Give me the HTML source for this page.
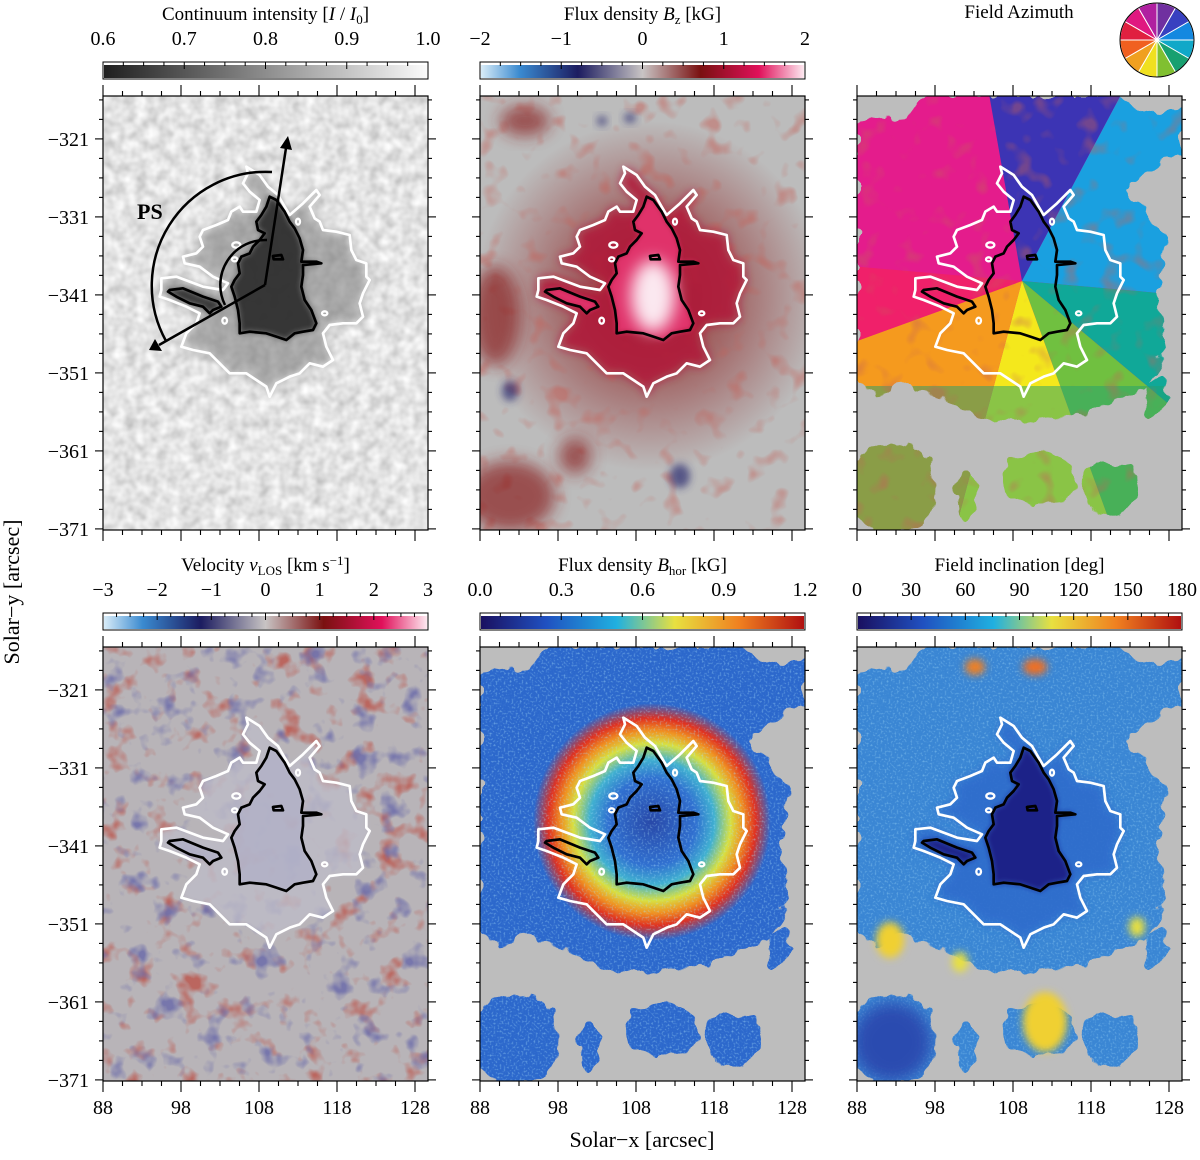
<!DOCTYPE html>
<html><head><meta charset="utf-8">
<style>
html,body{margin:0;padding:0;background:#fff;}
svg text{font-family:"Liberation Serif",serif;fill:#000;}
</style></head>
<body>
<svg id="fig" width="1200" height="1155" viewBox="0 0 1200 1155" xmlns="http://www.w3.org/2000/svg">
<defs>
  <clipPath id="pclip"><rect x="0" y="0" width="325" height="434"/></clipPath>
  <filter id="gran" x="0" y="0" width="325" height="434" filterUnits="userSpaceOnUse">
    <feTurbulence type="fractalNoise" baseFrequency="0.09" numOctaves="2" seed="4"/>
    <feColorMatrix values="0.6 0 0 0 0.47  0.6 0 0 0 0.47  0.6 0 0 0 0.47  0 0 0 0 1"/>
  </filter>
  <filter id="redn" x="0" y="0" width="325" height="434" filterUnits="userSpaceOnUse">
    <feTurbulence type="fractalNoise" baseFrequency="0.045" numOctaves="2" seed="7"/>
    <feColorMatrix values="0 0 0 0 0.55  0 0 0 0 0.12  0 0 0 0 0.1  4.5 0 0 0 -2.55"/>
  </filter>
  <filter id="velr" x="0" y="0" width="325" height="434" filterUnits="userSpaceOnUse">
    <feTurbulence type="fractalNoise" baseFrequency="0.04" numOctaves="3" seed="7"/>
    <feColorMatrix values="0 0 0 0 0.5  0 0 0 0 0.1  0 0 0 0 0.08  4 0 0 0 -2.25"/>
  </filter>
  <filter id="velb" x="0" y="0" width="325" height="434" filterUnits="userSpaceOnUse">
    <feTurbulence type="fractalNoise" baseFrequency="0.04" numOctaves="3" seed="23"/>
    <feColorMatrix values="0 0 0 0 0.15  0 0 0 0 0.15  0 0 0 0 0.4  4 0 0 0 -2.3"/>
  </filter>
  <filter id="speck" x="0" y="0" width="325" height="434" filterUnits="userSpaceOnUse">
    <feTurbulence type="fractalNoise" baseFrequency="0.5" numOctaves="1" seed="3"/>
    <feColorMatrix values="0 0 0 0 0.4  0 0 0 0 0.75  0 0 0 0 0.95  3 0 0 0 -1.5"/>
  </filter>
  <filter id="rough" x="-20" y="-20" width="365" height="474" filterUnits="userSpaceOnUse">
    <feTurbulence type="fractalNoise" baseFrequency="0.06" numOctaves="2" seed="11" result="t"/>
    <feDisplacementMap in="SourceGraphic" in2="t" scale="18" xChannelSelector="R" yChannelSelector="G"/>
  </filter>
  <filter id="b4" x="-50%" y="-50%" width="200%" height="200%"><feGaussianBlur stdDeviation="4"/></filter>
  <filter id="b8" x="-50%" y="-50%" width="200%" height="200%"><feGaussianBlur stdDeviation="8"/></filter>
  <filter id="b14" x="-50%" y="-50%" width="200%" height="200%"><feGaussianBlur stdDeviation="14"/></filter>
  <mask id="region" maskUnits="userSpaceOnUse" x="0" y="0" width="325" height="434">
    <g filter="url(#rough)" fill="#fff">
      <path d="M0,25 L50,20 L70,0 L260,0 L290,20 L325,10 L325,60 L300,70 L270,90 L290,120 L310,140 L300,200 L310,250 L290,290 L250,310 L200,322 L160,326 L120,320 L80,300 L50,290 L20,300 L0,290 Z"/>
      <ellipse cx="35" cy="392" rx="45" ry="45"/>
      <ellipse cx="180" cy="383" rx="38" ry="26"/>
      <ellipse cx="252" cy="393" rx="28" ry="26"/>
      <ellipse cx="110" cy="400" rx="10" ry="25"/>
      <ellipse cx="300" cy="300" rx="14" ry="18"/>
    </g>
  </mask>
  <radialGradient id="halo" cx="170" cy="200" r="175" gradientUnits="userSpaceOnUse">
    <stop offset="0" stop-color="#8b1c1c" stop-opacity="0.9"/>
    <stop offset="0.5" stop-color="#8b1c1c" stop-opacity="0.5"/>
    <stop offset="1" stop-color="#8b1c1c" stop-opacity="0"/>
  </radialGradient>
  <radialGradient id="ring" cx="172" cy="175" r="125" gradientUnits="userSpaceOnUse">
    <stop offset="0" stop-color="#2848a8"/>
    <stop offset="0.35" stop-color="#3070d0"/>
    <stop offset="0.5" stop-color="#40b0d0"/>
    <stop offset="0.63" stop-color="#d8e040"/>
    <stop offset="0.73" stop-color="#f09020"/>
    <stop offset="0.83" stop-color="#e03020"/>
    <stop offset="0.95" stop-color="#e03020" stop-opacity="0"/>
  </radialGradient>
  <linearGradient id="cb1"><stop offset="0" stop-color="#202020"/><stop offset="1" stop-color="#fafafa"/></linearGradient>
  <linearGradient id="cb2">
    <stop offset="0" stop-color="#d8ecf8"/><stop offset="0.12" stop-color="#3a8ad0"/><stop offset="0.3" stop-color="#1c1c60"/>
    <stop offset="0.5" stop-color="#c8c4c4"/><stop offset="0.68" stop-color="#7a1010"/><stop offset="0.86" stop-color="#e0105a"/><stop offset="1" stop-color="#fde8f0"/>
  </linearGradient>
  <linearGradient id="cb4">
    <stop offset="0" stop-color="#d8ecf8"/><stop offset="0.12" stop-color="#3a8ad0"/><stop offset="0.3" stop-color="#1c1c60"/>
    <stop offset="0.5" stop-color="#c8c4c4"/><stop offset="0.68" stop-color="#7a1010"/><stop offset="0.86" stop-color="#e0105a"/><stop offset="1" stop-color="#fde8f0"/>
  </linearGradient>
  <linearGradient id="cb5">
    <stop offset="0" stop-color="#1a1060"/><stop offset="0.2" stop-color="#2050c0"/><stop offset="0.42" stop-color="#20b0e0"/>
    <stop offset="0.6" stop-color="#e8e040"/><stop offset="0.8" stop-color="#f08020"/><stop offset="1" stop-color="#b01010"/>
  </linearGradient>
  <linearGradient id="cb6">
    <stop offset="0" stop-color="#1a1060"/><stop offset="0.2" stop-color="#2050c0"/><stop offset="0.42" stop-color="#20b0e0"/>
    <stop offset="0.6" stop-color="#e8e040"/><stop offset="0.8" stop-color="#f08020"/><stop offset="1" stop-color="#b01010"/>
  </linearGradient>
</defs>
</svg>
<script>
const NS='http://www.w3.org/2000/svg';
const svg=document.getElementById('fig');
const yTickValues=[-321,-331,-341,-351,-361,-371];
const xTickValues=[88,98,108,118,128];
const cbTitles=['Continuum intensity [I / I0]','Flux density Bz [kG]','Field Azimuth','Velocity vLOS [km s−1]','Flux density Bhor [kG]','Field inclination [deg]'];
const cb1Labels=['0.6','0.7','0.8','0.9','1.0'];
const cb2Labels=['−2','−1','0','1','2'];
const cb4Labels=['−3','−2','−1','0','1','2','3'];
const cb5Labels=['0.0','0.3','0.6','0.9','1.2'];
const cb6Labels=['0','30','60','90','120','150','180'];
const wheelColors=['#7030a0','#3840c0','#1488e0','#10a8c8','#18a070','#80c030','#f0e020','#f0a020','#f06020','#e02040','#e01880','#b020a0'];

const X0=88, Y0=-315.5, PX=7.8, PW=325, PH=434;
const xs=v=>(v-X0)*PX;
const ys=v=>(Y0-v)*PX;
const origins=[[103,96],[480,96],[857,96],[103,647],[480,647],[857,647]];

function el(tag,attrs,parent,name){
  const e=document.createElementNS(NS,tag);
  for(const k in attrs)e.setAttribute(k,attrs[k]);
  
  
  (parent||svg).appendChild(e);return e;
}

const BLACK="M500,140 L520,150 L545,185 L560,215 L575,235 L590,265 L600,300 L595,335 L640,335 L655,340 L600,345 L600,375 L595,410 L605,450 L625,480 L640,520 L630,540 L600,545 L575,550 L550,570 L520,560 L490,550 L440,545 L410,550 L410,520 L405,480 L395,440 L385,410 L395,390 L410,370 L405,340 L415,320 L440,310 L450,290 L470,270 L485,250 L465,240 L460,215 L475,195 L490,170 Z M200,420 L240,415 L300,440 L345,455 L355,470 L330,480 L320,490 L300,470 L260,460 L220,440 L195,425 Z M510,318 L535,315 L540,328 L512,328 Z";
const WHITE="M430,50 L470,75 L495,110 L525,135 L545,170 L560,195 L600,160 L640,120 L650,135 L620,170 L635,205 L650,215 L660,240 L700,245 L740,255 L745,300 L760,330 L790,340 L790,380 L800,390 L780,430 L770,460 L780,500 L760,520 L720,520 L680,525 L660,550 L670,590 L690,630 L660,650 L620,640 L590,670 L560,680 L520,700 L500,740 L490,710 L460,690 L430,670 L380,670 L350,640 L320,610 L270,600 L235,590 L250,550 L280,520 L290,490 L250,470 L200,450 L170,440 L175,420 L175,385 L220,380 L260,395 L300,410 L360,420 L375,400 L330,380 L290,350 L245,340 L240,320 L280,310 L300,290 L290,260 L300,240 L340,225 L375,210 L385,185 L410,170 L420,185 L460,185 L470,150 L440,125 L420,100 L435,70 Z";
const CIRCLES=[[400,285,12,8],[395,328,8,6],[365,512,7,9],[665,490,8,6],[585,215,6,9]];
const CT='translate(0,54) scale(0.33333)';

function contours(g){
  const c=el('g',{transform:CT,fill:'none','stroke-linejoin':'round'},g,'contour-group');
  el('path',{d:WHITE,stroke:'#fff','stroke-width':8},c,'penumbra-contour');
  CIRCLES.forEach(p=>el('ellipse',{cx:p[0],cy:p[1],rx:p[2],ry:p[3],stroke:'#fff','stroke-width':7},c,'penumbra-contour-island'));
  el('path',{d:BLACK,stroke:'#000','stroke-width':8},c,'umbra-contour');
}
function shape(g,d,fill,filter,op,name){
  const c=el('g',{transform:CT},g,name);
  el('path',{d:d,fill:fill,filter:filter?`url(#${filter})`:'', opacity:op||1},c,name+'-shape');
}

function frame(i){
  const [ox,oy]=origins[i];
  const g=el('g',{transform:`translate(${ox},${oy})`},svg,'panel-'+(i+1));
  const body=el('g',{'clip-path':'url(#pclip)'},g,'panel-image');
  return {g,body};
}
function axes(i){
  const [ox,oy]=origins[i];
  const g=el('g',{transform:`translate(${ox},${oy})`},svg,'panel-axes-'+(i+1));
  el('rect',{x:0,y:0,width:PW,height:PH,fill:'none',stroke:'#000','stroke-width':1.2},g,'panel-frame');
  for(let v=88;v<=129.6;v+=2.5){
    const major=Math.abs((v-88)%10)<0.01;const L=major?11:5;const x=xs(v);
    el('line',{x1:x,x2:x,y1:0,y2:-L,stroke:'#000','stroke-width':1.1},g,'x-tick-top');
    el('line',{x1:x,x2:x,y1:PH,y2:PH+L,stroke:'#000','stroke-width':1.1},g,'x-tick-bottom');
  }
  for(let k=-2;k<=20;k++){
    const v=-321-k*2.5; if(v>Y0||v<-371.2)continue;
    const major=k%4===0;const L=major?8:4;const y=ys(v);
    el('line',{x1:0,x2:-L,y1:y,y2:y,stroke:'#000','stroke-width':1.1},g,'y-tick-left');
    el('line',{x1:PW,x2:PW+L,y1:y,y2:y,stroke:'#000','stroke-width':1.1},g,'y-tick-right');
  }
  if(i===0||i===3){
    yTickValues.forEach(v=>{const t=el('text',{x:-14,y:ys(v)+7,'font-size':20,'text-anchor':'end'},g,'y-tick-label');t.textContent=String(v).replace('-','−');});
  }
  if(i>=3){
    xTickValues.forEach(v=>{const t=el('text',{x:xs(v),y:PH+33,'font-size':20,'text-anchor':'middle'},g,'x-tick-label');t.textContent=v;});
  }
}

function colorbar(i,grad,labels,title,titleHTML){
  const [ox,oy]=origins[i];
  const by=oy-34;
  const g=el('g',{transform:`translate(${ox},${by})`},svg,'colorbar-'+(i+1));
  el('rect',{x:0,y:0,width:PW,height:17,fill:'#fff',stroke:'#000','stroke-width':1},g,'colorbar-frame');
  el('rect',{x:1,y:3,width:PW-2,height:13,fill:`url(#${grad})`},g,'colorbar-gradient');
  const n=labels.length-1;const minors=4;
  for(let k=0;k<=n*minors;k++){
    const x=k*PW/(n*minors);const major=k%minors===0;
    el('line',{x1:x,x2:x,y1:0,y2:major?7:4,stroke:'#000','stroke-width':1},g,'colorbar-tick');
  }
  labels.forEach((l,k)=>{const t=el('text',{x:k*PW/n,y:-17,'font-size':20,'text-anchor':'middle'},g,'colorbar-tick-label');t.textContent=l;});
  const t=el('text',{x:PW/2,y:-42,'font-size':19,'text-anchor':'middle'},g,'colorbar-title');
  t.innerHTML=titleHTML;
}

/* Panel 1 continuum */
{const {body}=frame(0);
 el('rect',{x:0,y:0,width:PW,height:PH,filter:'url(#gran)'},body,'granulation');
 shape(body,WHITE,'#808080','b14',0.6,'penumbra');
 shape(body,BLACK,'#2a2a2a','b8',0.9,'umbra');
 contours(body);
 const a=el('g',{stroke:'#000','stroke-width':2.5,fill:'none'},body,'ps-annotation');
 const cx=162,cy=189;
 el('path',{d:`M${cx+7},${cy-113} A114,114 0 0 0 ${cx-99},${cy+56}`},a,'ps-arc');
 el('path',{d:`M${cx+2},${cy-45} A45,45 0 0 0 ${cx-40},${cy+20}`},a,'ps-inner-arc');
 el('line',{x1:cx,y1:cy,x2:183,y2:52},a,'ps-arrow-up');
 el('line',{x1:cx,y1:cy,x2:56,y2:249},a,'ps-arrow-left');
 el('path',{d:'M177,52 L185,40 L189,54 Z',fill:'#000',stroke:'none'},a,'arrow-head');
 el('path',{d:'M52,243 L46,254 L59,255 Z',fill:'#000',stroke:'none'},a,'arrow-head');
 const t=el('text',{x:34,y:123,'font-size':22,'font-weight':'bold'},body,'ps-label');t.textContent='PS';
}
/* Panel 2 Bz */
{const {body}=frame(1);
 el('rect',{x:0,y:0,width:PW,height:PH,fill:'#bcbcbc'},body,'background');
 el('circle',{cx:170,cy:200,r:175,fill:'url(#halo)'},body,'halo');
 el('rect',{x:0,y:0,width:PW,height:PH,filter:'url(#redn)',opacity:0.5},body,'flux-patches');
 [[30,400,45,35],[45,25,25,15],[15,220,25,50],[95,360,16,18]].forEach(e=>el('ellipse',{cx:e[0],cy:e[1],rx:e[2],ry:e[3],fill:'#8b2020',opacity:0.7,filter:'url(#b8)'},body,'brown-patch'));
 [[30,295,8,10],[200,380,10,12],[150,22,6,5],[122,25,5,5]].forEach(e=>el('ellipse',{cx:e[0],cy:e[1],rx:e[2],ry:e[3],fill:'#2a2a70',opacity:0.7,filter:'url(#b4)'},body,'blue-patch'));
 shape(body,WHITE,'#b01238','b14',0.85,'penumbra');
 shape(body,BLACK,'#e0306a','b8',1,'umbra');
 el('ellipse',{cx:173,cy:200,rx:22,ry:36,fill:'#fbe8f0',filter:'url(#b8)'},body,'umbra-core');
 contours(body);
}
/* Panel 3 azimuth */
{const {body}=frame(2);
 el('rect',{x:0,y:0,width:PW,height:PH,fill:'#bdbdbd'},body,'background');
 const m=el('g',{mask:'url(#region)'},body,'azimuth-map');
 el('rect',{x:0,y:0,width:PW,height:PH,fill:'#e41c8c'},m,'azimuth-base');
 const cx=165,cy=185,R=400;
 const secs=[[-100,-62,'#3c34b4'],[-62,5,'#1aa0e0'],[5,40,'#10a898'],[40,70,'#70c040'],[70,105,'#f4e81c'],[105,160,'#f59a1e'],[160,185,'#f0206a']];
 secs.forEach(s=>{const a1=s[0]*Math.PI/180,a2=s[1]*Math.PI/180;
   el('path',{d:`M${cx},${cy} L${cx+R*Math.cos(a1)},${cy+R*Math.sin(a1)} A${R},${R} 0 0 1 ${cx+R*Math.cos(a2)},${cy+R*Math.sin(a2)} Z`,fill:s[2]},m,'azimuth-sector');});
 el('rect',{x:0,y:290,width:PW,height:150,fill:'#20a070',opacity:0.5},m,'outer-patches');
 el('rect',{x:0,y:0,width:PW,height:PH,filter:'url(#redn)',opacity:0.4},m,'texture');
 contours(body);
}
/* Panel 4 velocity */
{const {body}=frame(3);
 el('rect',{x:0,y:0,width:PW,height:PH,fill:'#b8b4b8'},body,'background');
 el('rect',{x:0,y:0,width:PW,height:PH,filter:'url(#velr)',opacity:0.85},body,'redshift-patches');
 el('rect',{x:0,y:0,width:PW,height:PH,filter:'url(#velb)',opacity:0.85},body,'blueshift-patches');
 shape(body,WHITE,'#bebcc8','b8',0.8,'penumbra');
 shape(body,BLACK,'#b0b0c8','b4',0.7,'umbra');
 contours(body);
}
/* Panel 5 Bhor */
{const {body}=frame(4);
 el('rect',{x:0,y:0,width:PW,height:PH,fill:'#bdbdbd'},body,'background');
 const m=el('g',{mask:'url(#region)'},body,'bhor-map');
 el('rect',{x:0,y:0,width:PW,height:PH,fill:'#2c68cc'},m,'bhor-base');
 el('ellipse',{cx:172,cy:175,rx:125,ry:125,fill:'url(#ring)'},m,'bhor-ring');
 el('rect',{x:0,y:0,width:PW,height:PH,filter:'url(#speck)',opacity:0.45},m,'speckle');
 contours(body);
}
/* Panel 6 inclination */
{const {body}=frame(5);
 el('rect',{x:0,y:0,width:PW,height:PH,fill:'#bdbdbd'},body,'background');
 const m=el('g',{mask:'url(#region)'},body,'inclination-map');
 el('rect',{x:0,y:0,width:PW,height:PH,fill:'#3a86d4'},m,'incl-base');
 el('rect',{x:0,y:0,width:PW,height:PH,filter:'url(#speck)',opacity:0.4},m,'speckle');
 shape(m,WHITE,'#2e6ccc','b14',0.9,'penumbra');
 shape(m,BLACK,'#1e2488','b8',1,'umbra');
 el('ellipse',{cx:35,cy:395,rx:40,ry:40,fill:'#2a4cb0',filter:'url(#b8)'},m,'dark-patch');
 [[118,20,10,8,'#f08020'],[178,20,12,8,'#f07020'],[33,293,14,18,'#f0d030'],[188,375,22,30,'#f0d030'],[103,315,8,10,'#e8e040'],[280,280,8,10,'#e8e040']].forEach(e=>el('ellipse',{cx:e[0],cy:e[1],rx:e[2],ry:e[3],fill:e[4],filter:'url(#b4)'},body,'inclined-patch'));
 contours(body);
}
for(let i=0;i<6;i++)axes(i);
colorbar(0,'cb1',cb1Labels,cbTitles[0],'Continuum intensity [<tspan font-style="italic">I</tspan> / <tspan font-style="italic">I</tspan><tspan font-size="13" dy="4">0</tspan><tspan dy="-4">]</tspan>');
colorbar(1,'cb2',cb2Labels,cbTitles[1],'Flux density  <tspan font-style="italic">B</tspan><tspan font-size="13" dy="4">z</tspan><tspan dy="-4">   [kG]</tspan>');
colorbar(3,'cb4',cb4Labels,cbTitles[3],'Velocity  <tspan font-style="italic">v</tspan><tspan font-size="13" dy="4">LOS</tspan><tspan dy="-4">  [km s</tspan><tspan font-size="13" dy="-6">−1</tspan><tspan dy="6">]</tspan>');
colorbar(4,'cb5',cb5Labels,cbTitles[4],'Flux density  <tspan font-style="italic">B</tspan><tspan font-size="13" dy="4">hor</tspan><tspan dy="-4">   [kG]</tspan>');
colorbar(5,'cb6',cb6Labels,cbTitles[5],'Field inclination   [deg]');
{const t=el('text',{x:1019,y:18,'font-size':19,'text-anchor':'middle'},svg,'azimuth-title');t.textContent='Field Azimuth';
 const g=el('g',{},svg,'azimuth-color-wheel');
 const cx=1157,cy=40,r=37,n=wheelColors.length;
 wheelColors.forEach((c,k)=>{const a1=(-90+k*360/n)*Math.PI/180,a2=(-90+(k+1)*360/n)*Math.PI/180;
  el('path',{d:`M${cx},${cy} L${cx+r*Math.cos(a1)},${cy+r*Math.sin(a1)} A${r},${r} 0 0 1 ${cx+r*Math.cos(a2)},${cy+r*Math.sin(a2)} Z`,fill:c,stroke:'#fff','stroke-width':1},g,'wheel-sector');});
 el('circle',{cx:cx,cy:cy,r:r,fill:'none',stroke:'#000','stroke-width':1},g,'wheel-outline');
}
{const t=el('text',{x:642,y:1147,'font-size':22,'text-anchor':'middle'},svg,'x-axis-title');t.textContent='Solar−x   [arcsec]';
 const t2=el('text',{x:0,y:0,'font-size':22,'text-anchor':'middle',transform:'translate(19,592) rotate(-90)'},svg,'y-axis-title');t2.textContent='Solar−y   [arcsec]';}
</script>
</body></html>
